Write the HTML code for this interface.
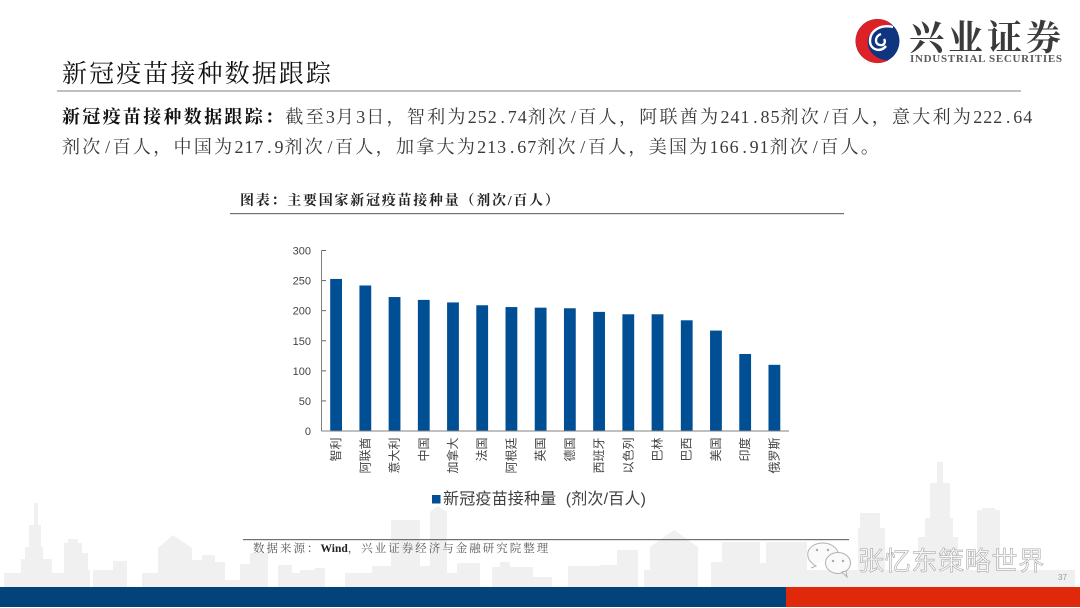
<!DOCTYPE html>
<html lang="zh-CN">
<head>
<meta charset="utf-8">
<title>新冠疫苗接种数据跟踪</title>
<style>
html,body{margin:0;padding:0;background:#fff;}
#slide{position:relative;width:1080px;height:608px;overflow:hidden;background:#fff;}
svg{position:absolute;left:0;top:0;}
.serif{font-family:"Liberation Serif","Noto Serif CJK SC",serif;}
.sans{font-family:"Liberation Sans","Noto Sans CJK SC",sans-serif;}
.body{font-size:18px;letter-spacing:2.3px;fill:#3a3a3a;}
.n{letter-spacing:1px;}
.p{letter-spacing:2.8px;}
.s{letter-spacing:2.5px;}
</style>
</head>
<body>
<div id="slide">
<svg id="art" width="1080" height="608" viewBox="0 0 1080 608">
  <g fill="#f0f0f0">
    <path d="M4 587V573H21V559H25V547H29V525H34V503H38V525H41V547H43V559H52V573H64V543H68V539H78V543H82V553H88V570H90V587Z"/>
    <path d="M93 587V570H113V561H127V587Z"/>
    <path d="M142 587V573H157V573H158V548L173 535L192 548V560H202V555H215V562H225V580H240V564H250V553H268V587Z"/>
    <path d="M278 587V565H292V573H300V570H315V568H325V587Z"/>
    <path d="M345 587V573H372V566H391V520H420V566H430V512L438 506L447 512V573H457V563H480V587Z"/>
    <path d="M492 587V567H500V562H510V567H533V577H552V587Z"/>
    <path d="M568 587V566H600V565H617V550H638V587Z"/>
    <path d="M644 587V570H650V547L674 530L698 547V587Z"/>
    <path d="M711 587V562H722V542H760V563H766V542H807V570H1075V587Z"/>
    <path d="M858 570V528H860V513H880V528H885V570Z"/>
    <path d="M918 570V537H925V518H930V483H937V462H943V483H950V518H953V537H958V570Z"/>
    <path d="M977 570V510H982V508H995V510H1000V570Z"/>
  </g>

  <g>
    <circle cx="877.5" cy="41" r="22" fill="#0f3480"/>
    <path d="M882 19.5A22 22 0 1 0 888 60.5C875 60 866 50 868 39C870 31 879 25 892 26C889 22 886 20 882 19.5Z" fill="#dd2126"/>
    <path d="M893 27C880 24 870 31 870 41C870 50 881 53 886 46" fill="none" stroke="#fff" stroke-width="2.4"/>
    <path d="M881 34C875 36 874 44 880 45C884 46 886 42 884 39" fill="none" stroke="#fff" stroke-width="2.4"/>
    <text x="909" y="50" font-size="35" font-weight="700" fill="#3b3b3b" letter-spacing="4" class="serif">兴业证券</text>
    <text x="910" y="62" font-size="11" font-weight="700" fill="#5a5a5a" textLength="152" lengthAdjust="spacing" class="serif">INDUSTRIAL SECURITIES</text>
  </g>

  <text x="62" y="82" font-size="25" fill="#111" letter-spacing="2.1" class="serif">新冠疫苗接种数据跟踪</text>
  <rect x="57" y="90.5" width="964" height="1" fill="#808080"/>

  <text x="62" y="123" class="serif body"><tspan font-weight="700" fill="#111">新冠疫苗接种数据跟踪：</tspan>截至<tspan class="n">3</tspan>月<tspan class="n">3</tspan>日，智利为<tspan class="n">252</tspan><tspan class="p" dx="2.7">.</tspan><tspan class="n">74</tspan>剂次<tspan class="s" dx="2.5">/</tspan>百人，阿联酋为<tspan class="n">241</tspan><tspan class="p" dx="2.7">.</tspan><tspan class="n">85</tspan>剂次<tspan class="s" dx="2.5">/</tspan>百人，意大利为<tspan class="n">222</tspan><tspan class="p" dx="2.7">.</tspan><tspan class="n">64</tspan></text>
  <text x="62" y="153" class="serif body">剂次<tspan class="s" dx="2.5">/</tspan>百人，中国为<tspan class="n">217</tspan><tspan class="p" dx="2.7">.</tspan><tspan class="n">9</tspan>剂次<tspan class="s" dx="2.5">/</tspan>百人，加拿大为<tspan class="n">213</tspan><tspan class="p" dx="2.7">.</tspan><tspan class="n">67</tspan>剂次<tspan class="s" dx="2.5">/</tspan>百人，美国为<tspan class="n">166</tspan><tspan class="p" dx="2.7">.</tspan><tspan class="n">91</tspan>剂次<tspan class="s" dx="2.5">/</tspan>百人。</text>

  <text x="240" y="205" font-size="14" font-weight="700" fill="#222" letter-spacing="1.75" class="serif">图表：主要国家新冠疫苗接种量（剂次/百人）</text>
  <rect x="230" y="213" width="614" height="1.2" fill="#707070"/>

  <g id="chart"></g>

  <rect x="243" y="539" width="606" height="1.2" fill="#707070"/>
  <text x="253" y="552" font-size="11.5" fill="#5a5a5a" letter-spacing="2" class="serif">数据来源：<tspan font-weight="700" fill="#222" letter-spacing="0">Wind</tspan>，兴业证券经济与金融研究院整理</text>

  <g>
    <g>
      <path d="M811 568L816 566C809 562 807 557 808 552C810 546 816 543 823 543C830 543 836 547 838 552" fill="#fafafa" stroke="#b0b0b0" stroke-width="1"/>
      <ellipse cx="838" cy="563" rx="12.5" ry="10.5" fill="#fafafa" stroke="#b0b0b0" stroke-width="1"/>
      <path d="M842 572L847 577L846 571Z" fill="#fafafa" stroke="#b0b0b0" stroke-width="1"/>
      <circle cx="817" cy="550" r="1.2" fill="#a8a8a8"/>
      <circle cx="828" cy="550" r="1.2" fill="#a8a8a8"/>
      <circle cx="833" cy="561" r="1.2" fill="#a8a8a8"/>
      <circle cx="843" cy="561" r="1.2" fill="#a8a8a8"/>
    </g>
    <text x="858" y="570" font-size="26" letter-spacing="0.7" fill="#f7f7f7" stroke="#9c9c9c" stroke-width="0.5" class="sans">张忆东策略世界</text>
  </g>
  <text x="1058" y="580" font-size="8" fill="#9a9a9a" class="sans">37</text>

  <rect x="0" y="587" width="786" height="20" fill="#03437a"/>
  <rect x="786" y="587" width="294" height="20" fill="#e0290b"/>
</svg>
</div>
<script>
const categories = ["智利","阿联酋","意大利","中国","加拿大","法国","阿根廷","英国","德国","西班牙","以色列","巴林","巴西","美国","印度","俄罗斯"];
const vaccineDoses = [252.74,241.85,222.64,217.9,213.67,209,206,205,204,198,194,194,184,166.91,128,110];
const yTickLabels = [0,50,100,150,200,250,300];
const legendLabel = "新冠疫苗接种量\u00a0\u00a0(剂次/百人)";

const NS = "http://www.w3.org/2000/svg";
const chart = document.getElementById("chart");
const plotLeft = 321.5, plotRight = 789, plotTop = 250.5, plotBottom = 431;
const yMax = yTickLabels[yTickLabels.length - 1];
function yScale(v){ return plotBottom - (v / yMax) * (plotBottom - plotTop); }
function xScale(i){ return plotLeft + (i + 0.5) * (plotRight - plotLeft) / categories.length; }
function make(tag, attrs){
  const el = document.createElementNS(NS, tag);
  for (const k in attrs) el.setAttribute(k, attrs[k]);
  chart.appendChild(el);
  return el;
}
const barWidth = 11.8;
vaccineDoses.forEach(function(v, i){
  const bar = make("rect", {x: xScale(i) - barWidth / 2, y: yScale(v), width: barWidth, height: plotBottom - yScale(v), fill: "#004e94"});
  
  
});
yTickLabels.forEach(function(t){
  const tick = make("line", {x1: plotLeft, x2: plotLeft + 4.5, y1: yScale(t), y2: yScale(t), stroke: "#666", "stroke-width": 1});
  
  
  const label = make("text", {x: 311, y: yScale(t) + 4, "font-size": 11, fill: "#444", "text-anchor": "end", "class": "sans"});
  label.textContent = t;
  
  
});
const yAxis = make("line", {x1: plotLeft, x2: plotLeft, y1: plotTop, y2: plotBottom, stroke: "#808080", "stroke-width": 1});


const xAxis = make("line", {x1: plotLeft, x2: plotRight, y1: plotBottom, y2: plotBottom, stroke: "#808080", "stroke-width": 1});


categories.forEach(function(c, i){
  const cx = xScale(i) + 4;
  const label = make("text", {x: cx, y: 437.5, "font-size": 12, fill: "#444", "text-anchor": "end", "class": "sans", transform: "rotate(-90 " + cx + " 437.5)"});
  label.textContent = c;
  
  
});
const swatch = make("rect", {x: 432, y: 495, width: 8.5, height: 8.5, fill: "#004e94"});


const legendText = make("text", {x: 443, y: 504, "font-size": 16, "letter-spacing": 0.2, fill: "#404040", "class": "sans"});
legendText.textContent = legendLabel;


</script>
</body>
</html>
